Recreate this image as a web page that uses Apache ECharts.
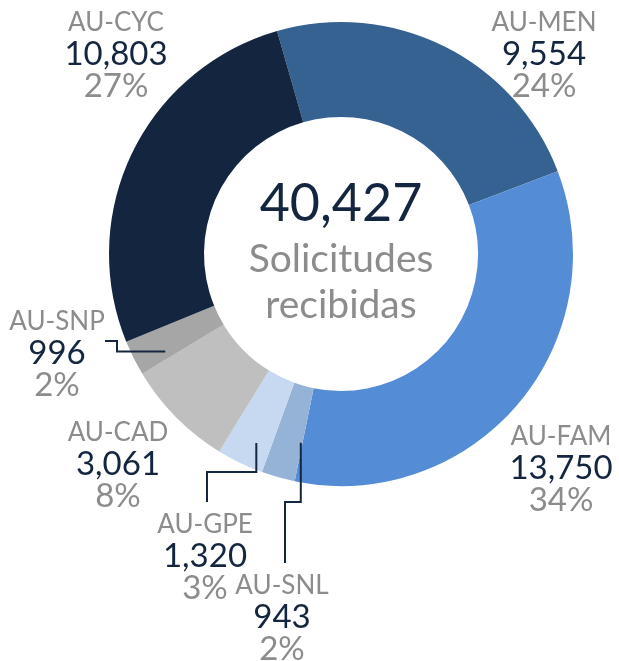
<!DOCTYPE html>
<html>
<head>
<meta charset="utf-8">
<script src="https://cdn.jsdelivr.net/npm/echarts@6/dist/echarts.min.js"></script>
<style>
  html, body { margin: 0; padding: 0; background: #ffffff; }
  #chart { width: 619px; height: 661px; }
</style>
</head>
<body>
<div id="chart"></div>
<script>
// ---- data ----
const categories = ['AU-MEN', 'AU-FAM', 'AU-SNL', 'AU-GPE', 'AU-CAD', 'AU-SNP', 'AU-CYC'];
const values = [9554, 13750, 943, 1320, 3061, 996, 10803];
const centerLines = ['Solicitudes', 'recibidas'];

// ---- style ----
const colors = ['#366292', '#548dd6', '#95b3d7', '#c6d9f0', '#bfbfbf', '#a6a6a6', '#14263f'];
const FONT = 'Lato';
const NAVY = '#14263f';
const GREY = '#8c8c8c';
const CX = 341, CY = 254, R0 = 137, R1 = 232, START = 106;

// label anchor: x = centre of text block, y = vertical centre of first line
const labelPos = {
  'AU-MEN': { x: 544, y: 23 },
  'AU-FAM': { x: 561, y: 437 },
  'AU-SNL': { x: 282, y: 586 },
  'AU-GPE': { x: 205, y: 525 },
  'AU-CAD': { x: 118, y: 433 },
  'AU-SNP': { x: 57, y: 322 },
  'AU-CYC': { x: 116, y: 23 }
};
// leader lines: start inside slice (fraction of slice span, radius), then elbow points
const leaders = {
  'AU-SNP': { frac: 0.23, r: 201, path: (s) => [[117, s[1]], [117, 341], [105, 341]] },
  'AU-GPE': { frac: 0.36, r: 207, path: (s) => [[s[0], 472], [207, 472], [207, 502]] },
  'AU-SNL': { frac: 0.06, r: 193, path: (s) => [[s[0], 502], [285, 502], [285, 563]] }
};

const total = values.reduce((a, b) => a + b, 0);
const fmt = (v) => v.toLocaleString('en-US');

// slice angles (degrees, math convention, clockwise from START)
const sliceAngles = [];
(function () {
  let a = START;
  values.forEach((v) => {
    const span = v / total * 360;
    sliceAngles.push([a, a - span]);
    a -= span;
  });
})();

const chart = echarts.init(document.getElementById('chart'), null, { renderer: 'canvas' });

const pieBase = {
  type: 'pie',
  center: [CX, CY],
  radius: [R0, R1],
  startAngle: START,
  clockwise: true,
  avoidLabelOverlap: false,
  silent: true,
  emphasis: { disabled: true }
};

const option = {
  backgroundColor: '#ffffff',
  animation: false,
  title: {
    left: CX,
    top: 172,
    textAlign: 'center',
    padding: 0,
    text: '{a|' + fmt(total) + '}\n' + centerLines.map((t) => '{b|' + t + '}').join('\n'),
    textStyle: {
      fontWeight: 'normal',
      rich: {
        a: { fontFamily: FONT, fontWeight: 'normal', fontSize: 52, color: NAVY, lineHeight: 64, align: 'center' },
        b: { fontFamily: FONT, fontWeight: 'normal', fontSize: 39, color: GREY, lineHeight: 46, align: 'center' }
      }
    }
  },
  series: [
    Object.assign({}, pieBase, {
      z: 2,
      data: categories.map((n, i) => ({ name: n, value: values[i], itemStyle: { color: colors[i] } })),
      label: { show: false },
      labelLine: { show: false }
    }),
    Object.assign({}, pieBase, {
      z: 3,
      data: categories.map((n, i) => ({
        name: n,
        value: values[i],
        itemStyle: { color: 'rgba(0,0,0,0)' },
        labelLine: { show: !!leaders[n] }
      })),
      label: {
        show: true,
        position: 'outside',
        formatter: (p) => '{n|' + p.name + '}\n{v|' + fmt(p.value) + '}\n{p|' + Math.round(p.value / total * 100) + '%}',
        rich: {
          n: { fontFamily: FONT, fontSize: 26, color: GREY, lineHeight: 30, align: 'center' },
          v: { fontFamily: FONT, fontSize: 33, color: NAVY, lineHeight: 32, align: 'center' },
          p: { fontFamily: FONT, fontSize: 33, color: GREY, lineHeight: 32, align: 'center' }
        }
      },
      labelLine: {
        show: true,
        length: 10,
        length2: 10,
        lineStyle: { color: NAVY, width: 2 }
      },
      labelLayout: function (params) {
        const n = categories[params.dataIndex];
        const lp = labelPos[n];
        const res = { x: lp.x, y: lp.y - 15, align: 'center', verticalAlign: 'top' };
        const ld = leaders[n];
        if (ld) {
          const [a0, a1] = sliceAngles[params.dataIndex];
          const ang = (a0 + (a1 - a0) * ld.frac) * Math.PI / 180;
          const s = [CX + ld.r * Math.cos(ang), CY - ld.r * Math.sin(ang)];
          res.labelLinePoints = [s].concat(ld.path(s));
        }
        return res;
      }
    })
  ]
};
chart.setOption(option);
</script>
</body>
</html>
